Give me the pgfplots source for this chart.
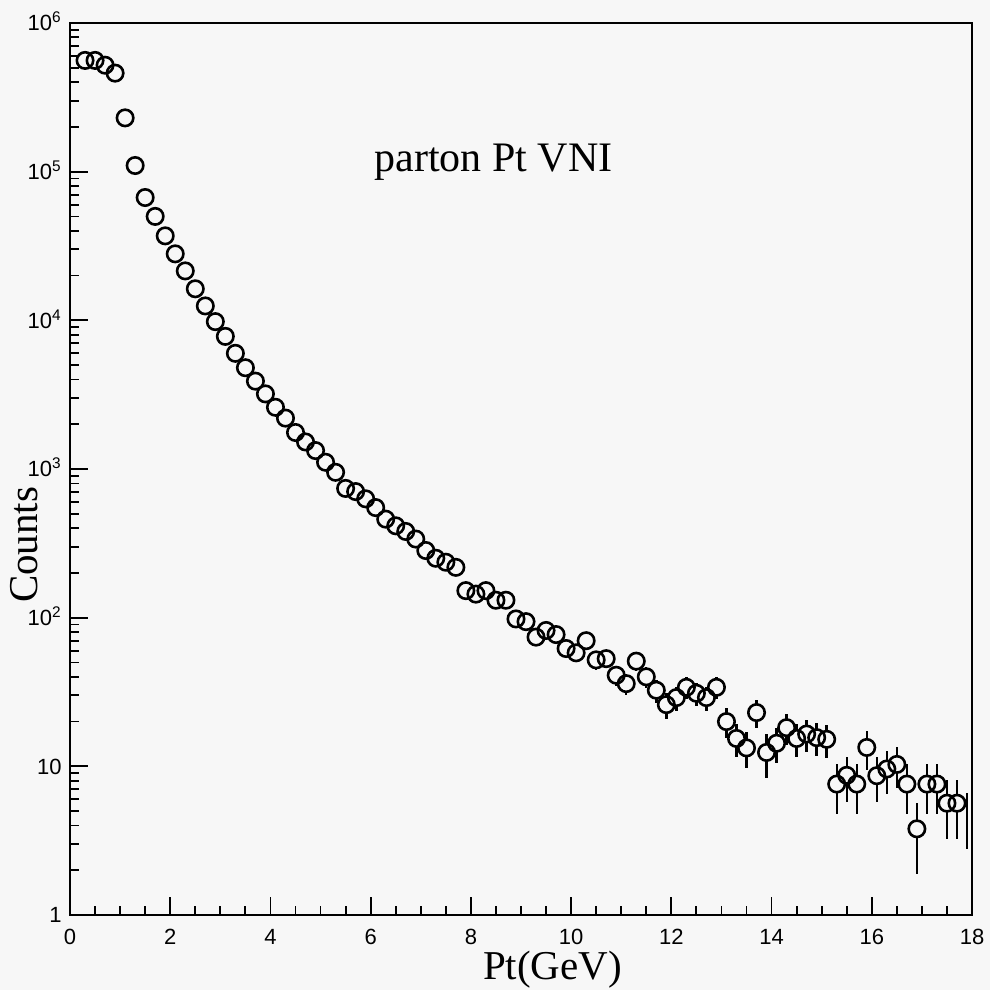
\documentclass[border=0pt]{standalone}
\usepackage{fontspec}
\setmainfont{Liberation Serif}
\newfontfamily\ticksans{Liberation Sans}
\usepackage{pgfplots}
\usepackage{pgfplotstable}
\pgfplotsset{compat=1.18}
\definecolor{paper}{RGB}{247,247,247}

% parton Pt spectrum, counts per 0.2 GeV bin, error ~ sqrt(N)
\pgfplotstableread{
pt   cnt     err
0.3  560000  748
0.5  560000  748
0.7  520000  721
0.9  460000  678
1.1  230000  480
1.3  110000  332
1.5  67000   259
1.7  50000   224
1.9  37000   192
2.1  28000   167
2.3  21500   147
2.5  16300   128
2.7  12500   112
2.9  9800    99
3.1  7800    88
3.3  6000    77
3.5  4800    69
3.7  3900    62
3.9  3200    57
4.1  2600    51
4.3  2200    47
4.5  1760    42
4.7  1520    39
4.9  1330    36
5.1  1110    33
5.3  950     31
5.5  740     27
5.7  705     27
5.9  630     25
6.1  550     23
6.3  460     21
6.5  415     20
6.7  380     19
6.9  338     18
7.1  283     17
7.3  251     16
7.5  236     15
7.7  218     15
7.9  152     12
8.1  144     12
8.3  152     12
8.5  131     11
8.7  131     11
8.9  98      10
9.1  94      10
9.3  74      8.6
9.5  82      9
9.7  77      8.8
9.9  62      7.9
10.1 58      7.6
10.3 70      8.4
10.5 52      7.2
10.7 53      7.3
10.9 41      6.4
11.1 36      6
11.3 51      7.1
11.5 40      6.3
11.7 32.5    5.7
11.9 26      5.1
12.1 29      5.4
12.3 34      5.8
12.5 31      5.6
12.7 29      5.4
12.9 34      5.8
13.1 20      4.5
13.3 15.4    3.9
13.5 13.3    3.6
13.7 23      4.8
13.9 12.4    4
14.1 14.3    3.8
14.3 18.2    4.3
14.5 15.4    3.9
14.7 16.5    4.1
14.9 15.6    3.9
15.1 15.2    3.9
15.3 7.6     2.8
15.5 8.7     2.9
15.7 7.6     2.8
15.9 13.4    3.9
16.1 8.65    2.9
16.3 9.6     3.1
16.5 10.3    3.2
16.7 7.6     2.8
16.9 3.8     1.9
17.1 7.6     2.8
17.3 7.6     2.8
17.5 5.65    2.4
17.7 5.65    2.4
}\ptdata

\begin{document}
\begin{tikzpicture}
\fill[paper] (-35pt,-37.5pt) rectangle (460pt,457.5pt);
\begin{axis}[
  at={(0,0)}, anchor=south west,
  scale only axis, width=451pt, height=446pt,
  ymode=log,
  xmin=0, xmax=18, ymin=1, ymax=1e6,
  axis line style={line width=1.1pt},
  xtick={0,2,...,18}, minor x tick num=3,
  ytick={1,10,100,1000,10000,100000,1000000},
  yticklabels={1,10,10\textsuperscript{2},10\textsuperscript{3},10\textsuperscript{4},10\textsuperscript{5},10\textsuperscript{6}},
  minor ytick={2,3,4,5,6,7,8,9,20,30,40,50,60,70,80,90,200,300,400,500,600,700,800,900,
    2000,3000,4000,5000,6000,7000,8000,9000,2e4,3e4,4e4,5e4,6e4,7e4,8e4,9e4,
    2e5,3e5,4e5,5e5,6e5,7e5,8e5,9e5},
  xtick pos=bottom, ytick pos=left, tick align=inside,
  major tick length=9pt, minor tick length=4.5pt,
  every tick/.style={black, line width=0.9pt},
  ticklabel style={font=\ticksans\fontsize{11}{11}\selectfont},
  /pgf/number format/assume math mode=true,
  xticklabel style={anchor=north, inner sep=0pt, yshift=-7pt},
  yticklabel style={anchor=base east, inner sep=0pt, xshift=-4pt, yshift=-3.9pt},
  xlabel={Pt(GeV)}, ylabel={Counts},
  label style={font=\fontsize{20.5}{20.5}\selectfont, inner sep=0pt},
  xlabel style={at={(axis description cs:0.535,0)}, anchor=base, yshift=-32pt},
  ylabel style={at={(axis description cs:-0.0355,0.415)}, anchor=base},
  clip=false,
]
% error bars first
\addplot[only marks, mark=none, black,
  error bars/.cd, y dir=both, y explicit, error mark=none,
  error bar style={line width=1.2pt, black}]
  table[x=pt, y=cnt, y error=err] {\ptdata};
% blank out bars inside the circles
\addplot[only marks, mark=*, mark size=4.1pt, mark options={draw=none, fill=paper}]
  table[x=pt, y=cnt] {\ptdata};
% open circles
\addplot[only marks, mark=o, mark size=4.1pt, mark options={line width=1.3pt, black}]
  table[x=pt, y=cnt] {\ptdata};
% last bin, bar only
\addplot[only marks, mark size=0pt, mark options={draw=none, fill=none}, black,
  error bars/.cd, y dir=both, y explicit, error mark=none,
  error bar style={line width=1.2pt, black}]
  coordinates {(17.9,4.7) +- (0,1.9)};

\node[anchor=base, font=\fontsize{21}{21}\selectfont] at (axis cs:8.45,1e5) {parton Pt VNI};
\end{axis}
\pgfresetboundingbox
\path[use as bounding box] (-35pt,-37.5pt) rectangle (460pt,457.5pt);
\end{tikzpicture}
\end{document}
